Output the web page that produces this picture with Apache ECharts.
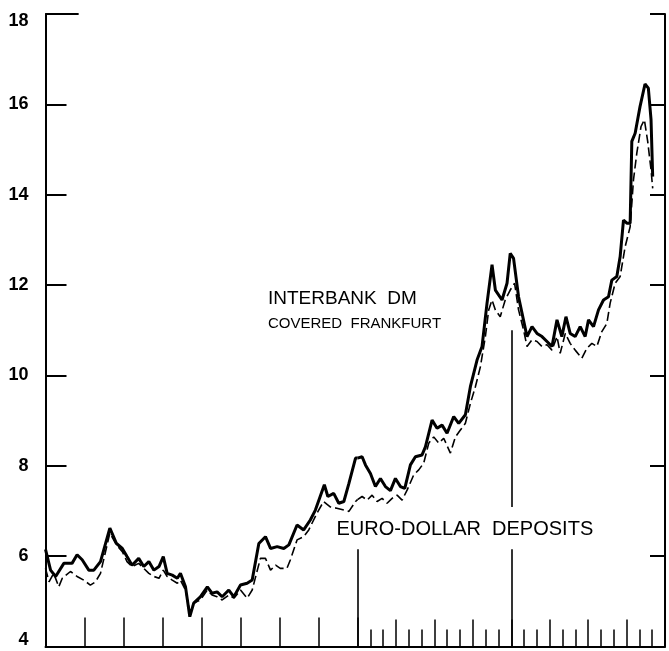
<!DOCTYPE html>
<html>
<head>
<meta charset="utf-8">
<script src="https://cdn.jsdelivr.net/npm/echarts@6/dist/echarts.min.js"></script>
<style>
html,body{margin:0;padding:0;background:#fff;}
#chart{width:669px;height:651px;}
</style>
</head>
<body>
<div id="chart"></div>
<script>
// ---------- DATA ----------
// Section A: years 0..8 (yearly ticks)
var dmYearsA = [0.00,0.13,0.26,0.47,0.68,0.81,0.94,1.11,1.24,1.41,1.65,1.82,1.97,2.09,2.22,2.39,2.52,2.65,2.78,2.91,3.02,3.12,3.25,3.38,3.46,3.59,3.70,3.80,3.97,4.15,4.27,4.40,4.53,4.70,4.83,5.00,5.17,5.30,5.47,5.64,5.77,5.94,6.11,6.24,6.45,6.62,6.79,6.92,7.15,7.24,7.39,7.52,7.65,7.78,7.95,8.00];
var dmRatesA = [6.15,5.69,5.55,5.84,5.84,6.03,5.92,5.69,5.69,5.88,6.62,6.28,6.17,5.99,5.80,5.95,5.77,5.88,5.69,5.77,5.99,5.62,5.58,5.51,5.62,5.32,4.66,4.96,5.10,5.32,5.18,5.21,5.10,5.25,5.10,5.36,5.40,5.47,6.28,6.43,6.17,6.21,6.17,6.25,6.69,6.58,6.80,7.02,7.58,7.32,7.39,7.17,7.21,7.61,8.17,8.17];

var euroYearsA = [0.00,0.09,0.21,0.34,0.43,0.64,0.81,0.98,1.15,1.28,1.41,1.65,1.82,1.97,2.09,2.22,2.39,2.52,2.65,2.78,2.91,3.02,3.12,3.25,3.38,3.46,3.59,3.70,3.80,3.97,4.15,4.27,4.40,4.53,4.70,4.83,5.00,5.17,5.30,5.51,5.64,5.77,5.90,6.02,6.19,6.28,6.45,6.62,6.75,6.96,7.13,7.30,7.47,7.65,7.78,7.95,8.00];
var euroRatesA = [5.73,5.43,5.62,5.32,5.51,5.66,5.55,5.47,5.36,5.43,5.62,6.51,6.25,6.10,5.88,5.77,5.84,5.73,5.62,5.55,5.51,5.69,5.55,5.47,5.40,5.47,5.25,4.77,4.96,5.03,5.25,5.14,5.10,5.03,5.14,5.07,5.25,5.07,5.25,5.95,5.95,5.69,5.80,5.73,5.73,5.92,6.36,6.43,6.58,6.95,7.21,7.09,7.06,7.02,6.99,7.21,7.25];

// Section B: months 0..24 (monthly ticks)
var dmMonthsB = [0,0.36,0.62,1.01,1.40,1.79,2.18,2.57,2.96,3.35,3.69,4.13,4.52,5.04,5.30,5.82,6.21,6.60,6.99,7.51,7.90,8.42,8.81,9.33,9.72,10.11,10.50,10.76,11.28,11.67,11.92,12.18,12.57,12.84,13.23,13.62,14.01,14.40,14.79,15.18,15.57,15.95,16.27,16.60,16.99,17.38,17.77,18.03,18.42,18.81,19.20,19.59,19.85,20.24,20.50,20.76,21.02,21.28,21.41,21.67,22.05,22.44,22.70,22.91,23.04];
var dmRatesB = [8.17,8.20,8.02,7.83,7.54,7.72,7.54,7.45,7.72,7.54,7.50,8.02,8.20,8.24,8.42,9.01,8.83,8.90,8.72,9.09,8.94,9.13,9.75,10.34,10.64,11.60,12.45,11.89,11.67,12.04,12.70,12.59,11.74,11.38,10.86,11.08,10.93,10.86,10.75,10.64,11.23,10.86,11.30,10.93,10.86,11.08,10.86,11.23,11.08,11.45,11.67,11.74,12.11,12.19,12.63,13.44,13.37,13.37,15.18,15.36,15.95,16.45,16.36,15.66,14.40];

var euroMonthsB = [0,0.36,0.75,1.14,1.53,1.92,2.31,2.70,3.09,3.48,3.87,4.39,4.78,5.17,5.56,5.95,6.34,6.73,7.25,7.64,8.03,8.42,8.81,9.20,9.59,9.98,10.24,10.50,10.76,11.14,11.53,11.92,12.26,12.57,12.96,13.23,13.62,14.01,14.40,14.79,15.18,15.57,15.82,16.22,16.60,16.99,17.51,17.90,18.29,18.68,19.07,19.46,19.72,20.11,20.50,20.89,21.28,21.54,21.80,22.13,22.39,22.65,22.91,23.04];
var euroRatesB = [7.25,7.32,7.24,7.35,7.21,7.28,7.17,7.28,7.35,7.24,7.46,7.80,7.91,8.06,8.50,8.64,8.50,8.61,8.28,8.64,8.79,8.94,9.38,9.75,10.19,10.86,11.45,11.67,11.45,11.30,11.67,11.89,12.04,11.45,11.01,10.64,10.79,10.75,10.64,10.68,10.56,10.86,10.49,10.93,10.71,10.56,10.38,10.60,10.71,10.64,10.97,11.15,11.60,12.04,12.19,12.85,13.29,14.33,14.92,15.51,15.66,15.18,14.55,14.14];

var yTicks = [4, 18, 2]; // min, max, step
var labelInterbank = 'INTERBANK  DM';
var labelCovered = 'COVERED  FRANKFURT';
var labelEuro = 'EURO-DOLLAR  DEPOSITS';

// year-boundary marker lines (month, fromValue, toValue)
var boundaryMarks = [[0, 4, 6.15], [12, 4, 6.15], [12, 7.09, 11.0]];

function zip(xs, ys) { return xs.map(function (x, i) { return [x, ys[i]]; }); }

var FONT = '"Liberation Sans", Arial, sans-serif';
var chart = echarts.init(document.getElementById('chart'), null, { renderer: 'canvas' });

var labelBase = { fontSize: 18, fontWeight: 'bold', fontFamily: FONT, color: '#000' };

var option = {
  backgroundColor: '#fff',
  animation: false,
  grid: [
    { left: 45.5, top: 14, width: 312, height: 632.5 },
    { left: 357.5, top: 14, width: 307.5, height: 632.5 }
  ],
  xAxis: [
    {
      gridIndex: 0, type: 'value', min: 0, max: 8, interval: 1,
      axisLine: { show: true, onZero: false, lineStyle: { color: '#000', width: 2 } },
      axisTick: { show: true, inside: true, length: 29, lineStyle: { color: '#000', width: 1.5 } },
      axisLabel: { show: false }, splitLine: { show: false }
    },
    {
      gridIndex: 1, type: 'value', min: 0, max: 24, interval: 3,
      axisLine: { show: true, onZero: false, lineStyle: { color: '#000', width: 2 } },
      axisTick: { show: true, inside: true, length: 27, lineStyle: { color: '#000', width: 1.5 } },
      minorTick: { show: true, splitNumber: 3, length: 17, lineStyle: { color: '#000', width: 1.5 } },
      axisLabel: { show: false }, splitLine: { show: false }, minorSplitLine: { show: false }
    }
  ],
  yAxis: [
    {
      gridIndex: 0, type: 'value', position: 'left', min: yTicks[0], max: yTicks[1], interval: yTicks[2],
      axisLine: { show: true, onZero: false, lineStyle: { color: '#000', width: 2 } },
      axisTick: { show: true, inside: true, length: 21, lineStyle: { color: '#000', width: 2 } },
      splitLine: { show: false },
      axisLabel: {
        show: true, margin: 17,
        formatter: function (v) {
          if (v === 18) return '{t|' + v + '}';
          if (v === 4) return '{b|' + v + '}';
          return '{n|' + v + '}';
        },
        rich: {
          n: labelBase,
          t: Object.assign({}, labelBase, { padding: [15, 0, 0, 0] }),
          b: Object.assign({}, labelBase, { padding: [0, 0, 13, 0] })
        }
      }
    },
    {
      gridIndex: 1, type: 'value', position: 'right', min: yTicks[0], max: yTicks[1], interval: yTicks[2],
      axisLine: { show: true, onZero: false, lineStyle: { color: '#000', width: 2 } },
      axisTick: { show: true, inside: true, length: 15, lineStyle: { color: '#000', width: 2 } },
      splitLine: { show: false },
      axisLabel: { show: false }
    }
  ],
  series: [
    {
      name: 'Interbank DM A', type: 'line', xAxisIndex: 0, yAxisIndex: 0,
      data: zip(dmYearsA, dmRatesA), symbol: 'none',
      lineStyle: { color: '#000', width: 3 }, z: 3,
      markLine: {
        silent: true, symbol: 'none', label: { show: false },
        lineStyle: { color: '#000', width: 2, type: 'solid' },
        data: [[{ coord: [0, 18] }, { coord: [0.85, 18] }]]
      }
    },
    {
      name: 'Euro-dollar A', type: 'line', xAxisIndex: 0, yAxisIndex: 0,
      data: zip(euroYearsA, euroRatesA), symbol: 'none',
      lineStyle: { color: '#000', width: 1.6, type: [9, 4] }, z: 2
    },
    {
      name: 'Interbank DM B', type: 'line', xAxisIndex: 1, yAxisIndex: 1,
      data: zip(dmMonthsB, dmRatesB), symbol: 'none',
      lineStyle: { color: '#000', width: 3 }, z: 3,
      markLine: {
        silent: true, symbol: 'none', label: { show: false },
        lineStyle: { color: '#000', width: 1.6, type: 'solid' },
        data: boundaryMarks.map(function (m) { return [{ coord: [m[0], m[1]] }, { coord: [m[0], m[2]] }]; })
      }
    },
    {
      name: 'Euro-dollar B', type: 'line', xAxisIndex: 1, yAxisIndex: 1,
      data: zip(euroMonthsB, euroRatesB), symbol: 'none',
      lineStyle: { color: '#000', width: 1.6, type: [9, 4] }, z: 2
    }
  ],
  graphic: [
    { type: 'text', x: 268, y: 299, style: { text: labelInterbank, font: '19px ' + FONT, fill: '#000', verticalAlign: 'middle' } },
    { type: 'text', x: 268, y: 324, style: { text: labelCovered, font: '15px ' + FONT, fill: '#000', verticalAlign: 'middle' } },
    { type: 'text', x: 336.5, y: 529, style: { text: labelEuro, font: '20px ' + FONT, fill: '#000', verticalAlign: 'middle' } }
  ]
};
chart.setOption(option);
</script>
</body>
</html>
